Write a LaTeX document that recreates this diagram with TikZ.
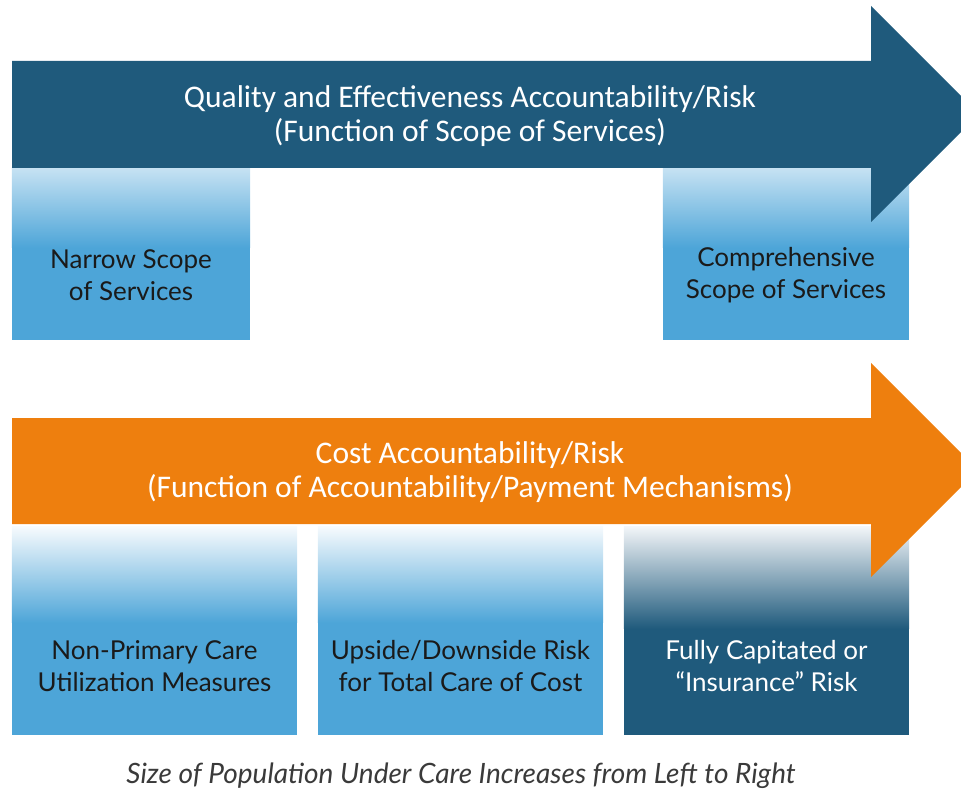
\documentclass[tikz,border=0pt]{standalone}
\usepackage{fontspec}
\setmainfont{Lato}
\newfontfamily\arrowfont{Carlito}
\usetikzlibrary{calc}
\definecolor{darkblue}{HTML}{1F5A7C}
\definecolor{midblue}{HTML}{4DA5D8}
\definecolor{paleblue}{HTML}{C6E2F3}
\definecolor{whiteblue}{HTML}{F6FAFD}
\definecolor{whitegray}{HTML}{F2F5F8}
\definecolor{orangeA}{HTML}{EE7F0E}
\definecolor{capgray}{HTML}{3A3A3A}
\definecolor{textdark}{HTML}{1A1A1A}
\tikzset{
  boxshape/.style 2 args={draw=none, inner sep=0pt, minimum width=#1, minimum height=#2},
  boxtext/.style={align=center, font=\fontsize{26}{32}\selectfont, text=textdark, inner sep=0pt},
  arrowtext/.style={align=center, font=\arrowfont\fontsize{31.5}{34}\selectfont, text=white, inner sep=0pt},
  caption/.style={font=\itshape\fontsize{28}{30}\selectfont, text=capgray, inner sep=0pt}
}
\begin{document}
\begin{tikzpicture}[x=1pt,y=-1pt]
\useasboundingbox (0,0) rectangle (961,791);
\clip (0,0) rectangle (961,791);
% top row boxes
\node[boxshape={238pt}{172pt}, fill=midblue] (b1) at (131,254) {};
\node[boxshape={246pt}{172pt}, fill=midblue] (b2) at (786,254) {};
\shade[top color=paleblue, bottom color=midblue] (b1.north west) rectangle ($(b1.north east)+(0,80)$);
\shade[top color=paleblue, bottom color=midblue] (b2.north west) rectangle ($(b2.north east)+(0,80)$);
% bottom row boxes
\node[boxshape={285pt}{208pt}, fill=midblue] (c1) at (154.5,631) {};
\node[boxshape={285pt}{208pt}, fill=midblue] (c2) at (460.5,631) {};
\node[boxshape={285pt}{208pt}, fill=darkblue] (c3) at (766.5,631) {};
\shade[top color=whiteblue, bottom color=midblue] (c1.north west) rectangle ($(c1.north east)+(0,96)$);
\shade[top color=whiteblue, bottom color=midblue] (c2.north west) rectangle ($(c2.north east)+(0,96)$);
\shade[top color=whitegray, bottom color=darkblue] (c3.north west) rectangle ($(c3.north east)+(0,102)$);
% arrows
\fill[darkblue] (12,61) -- (871,61) -- (871,6) -- (979,114) -- (871,222) -- (871,168) -- (12,168) -- cycle;
\fill[orangeA] (12,418) -- (871,418) -- (871,363) -- (978,470) -- (871,577) -- (871,524) -- (12,524) -- cycle;
% texts
\node[arrowtext] (qa) at (470,116) {Quality and Effectiveness Accountability/Risk\\(Function of Scope of Services)};
\node[arrowtext] (ca) at (470,472) {Cost Accountability/Risk\\(Function of Accountability/Payment Mechanisms)};
\node[boxtext] (t1) at ($(b1.center)+(0,21)$) {Narrow Scope\\of Services};
\node[boxtext] (t2) at ($(b2.center)+(0,21)$) {Comprehensive\\Scope of Services};
\node[boxtext] (u1) at ($(c1.center)+(0,35)$) {Non-Primary Care\\Utilization Measures};
\node[boxtext] (u2) at ($(c2.center)+(0,35)$) {Upside/Downside Risk\\for Total Care of Cost};
\node[boxtext, text=white] (u3) at ($(c3.center)+(0,35)$) {Fully Capitated or\\“Insurance” Risk};
\node[caption] (cap) at (461,776) {Size of Population Under Care Increases from Left to Right};
\end{tikzpicture}
\end{document}
